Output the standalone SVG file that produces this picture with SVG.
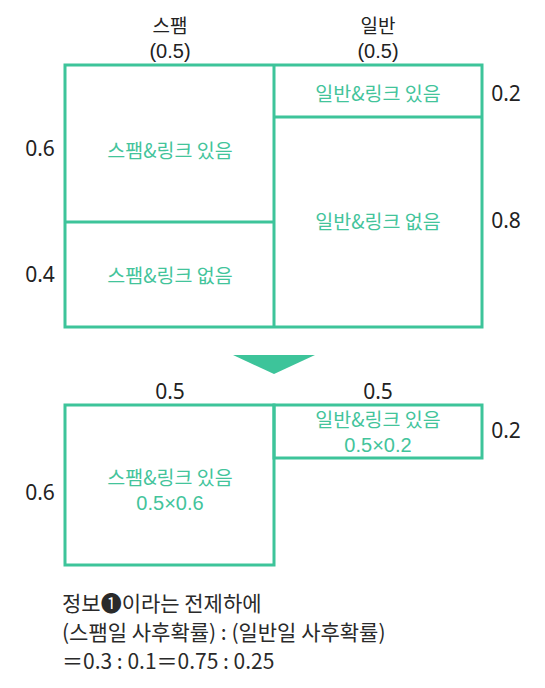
<svg xmlns="http://www.w3.org/2000/svg" width="545" height="688" viewBox="0 0 545 688">
<style>
.box{fill:none;stroke:#3dc49a;stroke-width:3}
.lbl{font-family:"Noto Sans CJK KR","Noto Sans",sans-serif;font-size:19px;fill:#222;text-anchor:middle}
.num{font-family:"Noto Sans","Noto Sans CJK KR",sans-serif;font-size:21px;fill:#222;text-anchor:middle}
.par{font-family:"Liberation Sans",sans-serif;font-size:20px;fill:#222;text-anchor:middle}
.g{font-family:"Noto Sans CJK KR","Noto Sans",sans-serif;font-size:19.5px;fill:#43c49b;text-anchor:middle}
.gn{font-family:"Liberation Sans",sans-serif;font-size:20px;fill:#43c49b;text-anchor:middle}
.t{font-family:"Noto Sans CJK KR","Noto Sans",sans-serif;font-size:21px;fill:#2a2a2a}
</style>
<rect width="545" height="688" fill="#fff"/>
<g id="top-labels">
<text class="lbl" x="170" y="33">스팸</text>
<text class="par" x="170" y="58">(0.5)</text>
<text class="lbl" x="378" y="33">일반</text>
<text class="par" x="378" y="58">(0.5)</text>
<text class="num" x="40" y="156">0.6</text>
<text class="num" x="40" y="282">0.4</text>
<text class="num" x="506" y="101">0.2</text>
<text class="num" x="506" y="228">0.8</text>
</g>
<g id="top-grid">
<rect class="box" x="65" y="65" width="417" height="262"/>
<line class="box" x1="274" y1="65" x2="274" y2="327"/>
<line class="box" x1="65" y1="222" x2="274" y2="222"/>
<line class="box" x1="274" y1="117" x2="482" y2="117"/>
</g>
<g id="spam-link-yes"><text class="g" x="170" y="158">스팸&amp;링크 있음</text></g>
<g id="spam-link-no"><text class="g" x="170" y="283">스팸&amp;링크 없음</text></g>
<g id="normal-link-yes"><text class="g" x="378" y="101">일반&amp;링크 있음</text></g>
<g id="normal-link-no"><text class="g" x="378" y="229">일반&amp;링크 없음</text></g>
<g id="connectors">
<polygon points="233,355 315,355 274,374" fill="#3dc49a"/>
</g>
<g id="bottom-labels">
<text class="num" x="170" y="399">0.5</text>
<text class="num" x="378" y="399">0.5</text>
<text class="num" x="506" y="438">0.2</text>
<text class="num" x="40" y="500">0.6</text>
</g>
<g id="spam-result">
<rect class="box" x="65" y="405" width="209" height="160"/>
<text class="g" x="170" y="485">스팸&amp;링크 있음</text>
<text class="gn" x="170" y="510">0.5×0.6</text>
</g>
<g id="normal-result">
<rect class="box" x="274" y="405" width="208" height="53"/>
<text class="g" x="378" y="427">일반&amp;링크 있음</text>
<text class="gn" x="378" y="452">0.5×0.2</text>
</g>
<g id="note">
<text class="t" x="62" y="611">정보❶이라는 전제하에</text>
<text class="t" x="62" y="640">(스팸일 사후확률) : (일반일 사후확률)</text>
<text class="t" x="62" y="669">＝0.3 : 0.1＝0.75 : 0.25</text>
</g>
</svg>
